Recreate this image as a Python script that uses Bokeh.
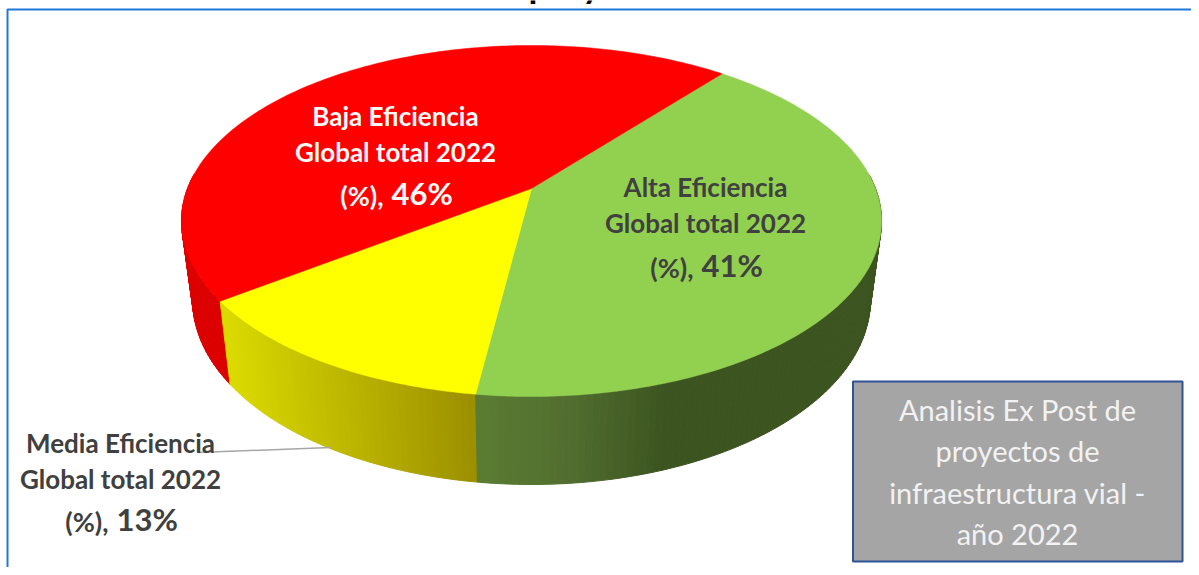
import numpy as np
from bokeh.plotting import figure
from bokeh.models import Range1d
from bokeh.core.properties import value
from bokeh.embed import file_html
from bokeh.resources import INLINE

# Data
categories = ["Alta Eficiencia", "Media Eficiencia", "Baja Eficiencia"]
shares = [41.2, 12.8, 46.0]
top_colors = ["#92d050", "#ffff00", "#ff0000"]
first_slice_start_deg = 50.7

label_lines = {
    "Baja": ["Baja Eficiencia", "Global total 2022"],
    "Alta": ["Alta Eficiencia", "Global total 2022"],
    "Media": ["Media Eficiencia", "Global total 2022"],
}
box_lines = ["Analisis Ex Post de", "proyectos de", "infraestructura vial -", "año 2022"]

# Geometry of the perspective pie (pixels)
CX, CY, A, B, K = 531.0, 188.0, 344.0, 169.5, 0.185
BX, BY0, BSY = 0.968, 265.6, 1.05


def rim(t):
    c, s = np.cos(t), np.sin(t)
    w = 1 + K * s
    return A * c / w, -B * s / w


def hex2rgb(h):
    return np.array([int(h[i:i + 2], 16) for i in (1, 3, 5)], float)


def ramp(x, xs, cols):
    rgb = np.array([hex2rgb(c) for c in cols])
    v = [np.interp(x, xs, rgb[:, i]) for i in range(3)]
    return "#%02x%02x%02x" % tuple(int(round(q)) for q in v)


wall_ramps = [
    ([474, 560, 660, 900], ["#5a7d32", "#536f30", "#3c5520", "#3c5520"]),
    ([229, 474], ["#dcdc00", "#9c9000"]),
    ([100, 300], ["#dc0000", "#dc0000"]),
]

p = figure(width=1191, height=567, x_range=Range1d(0, 1191), y_range=Range1d(567, 0),
           output_backend="svg", toolbar_location=None, min_border=0)
p.axis.visible = False
p.grid.visible = False
p.outline_line_color = None
p.background_fill_color = "white"

# Slices from values, clockwise
angles = np.array(shares, float) / sum(shares) * 360
starts = first_slice_start_deg - np.concatenate([[0], np.cumsum(angles)[:-1]])

qx, qy, qc, qk = [], [], [], []
tops = []
for i, (st, sp) in enumerate(zip(starts, angles)):
    n = max(int(sp), 2)
    ts = np.radians(np.linspace(st, st - sp, n + 1))
    X, Y = rim(ts)
    tops.append((CX + X, CY + Y))
    xt, yt = CX + X, CY + Y
    xb, yb = CX + BX * X, BY0 + BSY * Y
    for j in range(n):
        mid = np.sin((ts[j] + ts[j + 1]) / 2)
        if mid > 0.08:
            continue
        qx.append([xt[j], xt[j + 1], xb[j + 1], xb[j]])
        qy.append([yt[j], yt[j + 1], yb[j + 1], yb[j]])
        qc.append(ramp((xb[j] + xb[j + 1]) / 2, *wall_ramps[i]))
        qk.append(-mid)
order = np.argsort(qk)
p.patches([qx[o] for o in order], [qy[o] for o in order],
          fill_color=[qc[o] for o in order], line_color=[qc[o] for o in order], line_width=1)

for (x, y), col in zip(tops, top_colors):
    p.patch(np.concatenate([[CX], x]), np.concatenate([[CY], y]), fill_color=col, line_color=col, line_width=0.5)

# Frame
p.line([1191, 7, 7], [9, 9, 567], line_color="#1f78d8", line_width=2)

# Cut-off title
p.text([528], [-17], text=["proyectos"], text_font=value("Lato"), text_font_style="bold",
       text_font_size="36px", text_color="black", text_align="left", text_baseline="alphabetic")

# Leader line
p.line([198, 330], [452, 447], line_color="#a6a6a6", line_width=1.5)


def label(cx, y1, y2, y3, key, pct, color):
    for line, y in zip(label_lines[key], (y1, y2)):
        p.text([cx], [y], text=[line], text_font=value("Lato"), text_font_style="bold", text_font_size="26px",
               text_color=color, text_align="center", text_baseline="middle")
    p.text([cx - 12], [y3 + 3], text=["(%),"], text_font=value("Lato"), text_font_style="bold", text_font_size="27px",
           text_color=color, text_align="right", text_baseline="middle")
    p.text([cx - 4], [y3], text=[f"{pct:.0f}%"], text_font=value("Lato"), text_font_style="bold", text_font_size="31px",
           text_color=color, text_align="left", text_baseline="middle")


label(395, 115, 151, 192, "Baja", shares[2], "#f8f8f8")
label(705, 186, 222, 264, "Alta", shares[0], "#404040")
label(120, 442, 478, 518, "Media", shares[1], "#404040")

# Box
p.quad(left=[852.5], right=[1182], top=[381], bottom=[561], fill_color="#a5a5a5", line_color="#2f5597", line_width=2)
for line, y in zip(box_lines, (409, 450, 492, 533)):
    p.text([1017], [y], text=[line], text_font=value("Lato"), text_font_size="29px",
           text_color="#f2f2f2", text_align="center", text_baseline="middle")

open("out.html", "w").write(file_html(p, INLINE))
